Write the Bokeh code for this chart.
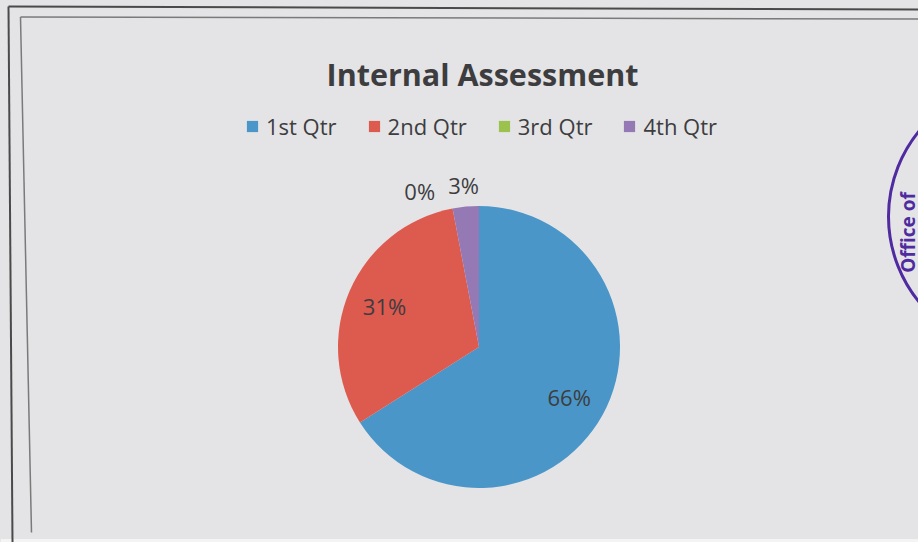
import math
from bokeh.plotting import figure
from bokeh.models import ColumnDataSource, Range1d, Legend, LegendItem, Label
from bokeh.core.properties import value
from bokeh.embed import file_html
from bokeh.resources import INLINE

# ---- data ----
title_text = "Internal Assessment"
categories = ["1st Qtr", "2nd Qtr", "3rd Qtr", "4th Qtr"]
shares = [66, 31, 0, 3]
colors = ["#4a96c9", "#dd5a4f", "#9bc24c", "#9479b5"]

# ---- layout (page pixels -> data units, 1 unit = 1 px) ----
W, H = 918, 542
BG = "#e4e4e6"
FONT = "Open Sans"
TXT = "#3d3d3f"

def X(px):
    return px

def Y(py):
    return H - py

cx, cy, r = X(478.5), Y(346.5), 141

total = float(sum(shares))
starts, ends, mids = [], [], []
a = math.pi / 2
for s in shares:
    sweep = 2 * math.pi * s / total
    starts.append(a)
    ends.append(a - sweep if sweep > 0 else a - 1e-6)
    mids.append(a - sweep / 2)
    a -= sweep

src = ColumnDataSource(dict(category=categories, share=shares, color=colors,
                            start=starts, end=ends))

p = figure(width=W, height=H, output_backend="svg", toolbar_location=None,
           x_range=Range1d(0, W), y_range=Range1d(0, H), min_border=0,
           background_fill_color=BG, border_fill_color=BG)
p.axis.visible = False
p.grid.visible = False
p.outline_line_color = None

# frame lines of the printed sheet (photographed slightly skewed)
p.quad(left=[0], right=[W], bottom=[0], top=[Y(538.5)], fill_color="#f4f4f4",
       line_color=None)
p.line([X(8), X(918)], [Y(6), Y(9)], line_color="#4a4a4a", line_width=2)
p.line([X(20), X(918)], [Y(16.5), Y(18.5)], line_color="#7a7a7a", line_width=1.5)
p.line([X(8), X(12)], [Y(6), Y(542)], line_color="#4a4a4a", line_width=2)
p.line([X(20), X(31)], [Y(16.5), Y(532)], line_color="#7a7a7a", line_width=1.5)

# stamp at the right edge
p.circle(x=[X(1023)], y=[Y(216)], radius=135, fill_color=None,
         line_color="#4f2aa0", line_width=3)
p.text(x=[X(907)], y=[Y(232)], text=["Office of"], angle=math.pi / 2,
       text_font=value(FONT), text_font_size="19px", text_font_style="bold",
       text_color="#4f2aa0", text_align="center", text_baseline="alphabetic")

# pie
wr = p.wedge(x=cx, y=cy, radius=r, start_angle="start", end_angle="end",
             direction="clock", fill_color="color", line_color=None, source=src)

# data labels (small slices labelled outside; the empty one nudged aside)
nudge_ang = [0, 0, math.radians(10), 0]
nudge_d = [0, 0, 4, 0]
lx, ly, lt = [], [], []
for s, m, na, nd in zip(shares, mids, nudge_ang, nudge_d):
    d = 0.73 * r if s >= 10 else r + 22 + nd
    ang = m + na
    lx.append(cx + d * math.cos(ang))
    ly.append(cy + d * math.sin(ang))
    lt.append(f"{round(100 * s / total)}%")
p.text(x=lx, y=ly, text=lt, text_font=value(FONT), text_font_size="22px",
       text_color=TXT, text_align="center", text_baseline="middle")

# title
p.add_layout(Label(x=X(482), y=Y(73), text=title_text, text_font=FONT,
                   text_font_size="30.5px", text_font_style="bold", text_color=TXT,
                   text_align="center", text_baseline="alphabetic"))

# legend
legend = Legend(items=[LegendItem(label=c, renderers=[wr], index=i)
                       for i, c in enumerate(categories)],
                orientation="horizontal")
legend.location = (X(245), Y(141))
legend.padding = 0
legend.margin = 0
legend.spacing = 30
legend.glyph_width = 14
legend.glyph_height = 14
legend.label_standoff = 7
legend.label_text_font = FONT
legend.label_text_font_size = "22px"
legend.label_text_color = TXT
legend.border_line_color = None
legend.background_fill_alpha = 0
p.add_layout(legend, "center")

html = file_html(p, INLINE)
html = html.replace("</head>", f"<style>body{{background:{BG};}}</style></head>", 1)
open("out.html", "w").write(html)
